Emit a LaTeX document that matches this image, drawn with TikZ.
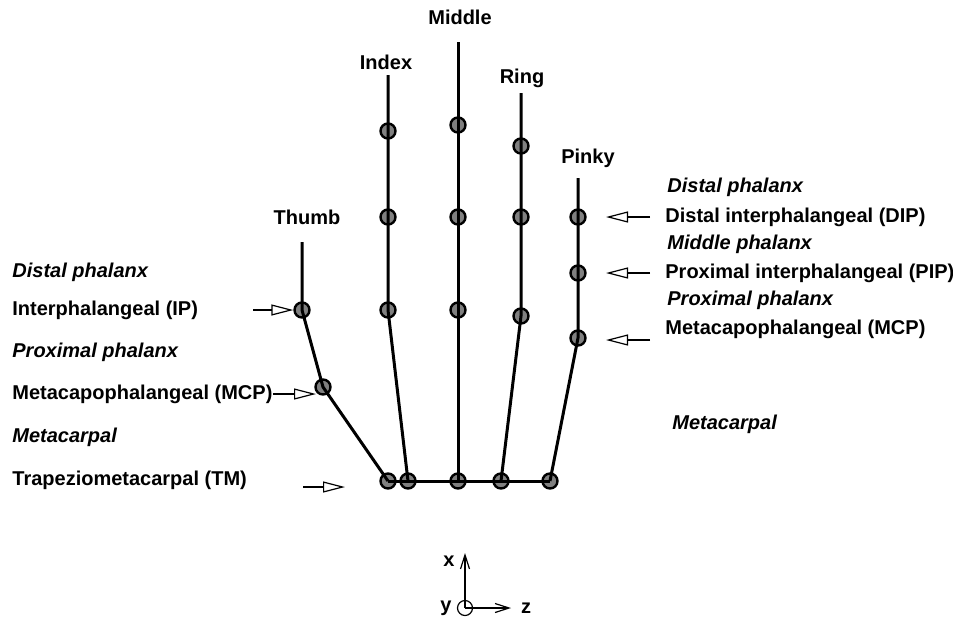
\documentclass[tikz,border=0pt]{standalone}
\usepackage{fontspec}
\setmainfont{Liberation Sans}
\usetikzlibrary{arrows.meta,positioning,calc}
\tikzset{
    joint/.style={
        circle,
        draw=black,
        line width=1.2pt,
        fill=gray,
        inner sep=0pt,
        minimum size=7.5pt,
    },
    bone/.style={
        draw,
        line width=1.5pt,
    },
    tag/.style={
        anchor=west,
        inner sep=0pt,
        font=\bfseries,
    },
    part/.style={
        tag,
        font=\bfseries\itshape,
    },
    finger/.style={
        font=\bfseries,
    },
    pointer/.style={
        draw,
        -{Triangle[open,length=11pt,width=5.5pt]},
        line width=0.6pt,
    },
    axis/.style={
        draw,
        -{Straight Barb[length=7pt,width=4.5pt]},
        line width=0.6pt,
    },
}

\begin{document}
\begin{tikzpicture}[x=0.5pt,y=-0.5pt]
    \useasboundingbox (0,0) rectangle (953,618);

    % joints
    \node [joint] (T0) at (388,481) {};
    \node [joint] (T1) at (323,387) {};
    \node [joint] (T2) at (302,310) {};
    \coordinate (T3) at (302,242);

    \node [joint] (I0) at (408,481) {};
    \node [joint] (I1) at (388,310) {};
    \node [joint] (I2) at (388,217) {};
    \node [joint] (I3) at (388,131) {};
    \coordinate (I4) at (388,75);

    \node [joint] (M0) at (458,481) {};
    \node [joint] (M1) at (458,310) {};
    \node [joint] (M2) at (458,217) {};
    \node [joint] (M3) at (458,125) {};
    \coordinate (M4) at (458,42);

    \node [joint] (R0) at (501,481) {};
    \node [joint] (R1) at (521,316) {};
    \node [joint] (R2) at (521,217) {};
    \node [joint] (R3) at (521,146) {};
    \coordinate (R4) at (521,93);

    \node [joint] (P0) at (550,481) {};
    \node [joint] (P1) at (578,338) {};
    \node [joint] (P2) at (578,273) {};
    \node [joint] (P3) at (578,217) {};
    \coordinate (P4) at (578,178);

    % bones
    \draw [bone] (T0.center) -- (T1.center) -- (T2.center) -- (T3);
    \draw [bone] (I0.center) -- (I1.center) -- (I2.center) -- (I3.center) -- (I4);
    \draw [bone] (M0.center) -- (M1.center) -- (M2.center) -- (M3.center) -- (M4);
    \draw [bone] (R0.center) -- (R1.center) -- (R2.center) -- (R3.center) -- (R4);
    \draw [bone] (P0.center) -- (P1.center) -- (P2.center) -- (P3.center) -- (P4);
    \draw [bone] (T0.center) -- (P0.center);

    % finger names
    \node [finger] (thumb) at (307,217) {Thumb};
    \node [finger] (index) at (386,62) {Index};
    \node [finger] (middle) at (460,17) {Middle};
    \node [finger] (ring) at (522,78) {Ring};
    \node [finger] (pinky) at (588,158) {Pinky};

    % thumb side
    \node [part] (lDist) at (12,272) {Distal phalanx};
    \node [tag] (lIP) at (12,310) {Interphalangeal (IP)};
    \node [part] (lProx) at (12,352) {Proximal phalanx};
    \node [tag] (lMCP) at (12,394) {Metacapophalangeal (MCP)};
    \node [part] (lMeta) at (12,437) {Metacarpal};
    \node [tag] (lTM) at (12,480) {Trapeziometacarpal (TM)};

    \coordinate (aIP) at (253,310);
    \coordinate (bMCP) at (316,394);
    \coordinate (aTM) at (303,487);
    \coordinate (bTM) at (345,487);
    \draw [pointer] (aIP) -- (T2);
    \draw [pointer] (lMCP.east) -- (lMCP.east -| bMCP);
    \draw [pointer] (aTM) -- (bTM);

    % pinky side
    \node [part] (rDist) at (667,187) {Distal phalanx};
    \node [tag] (rDIP) at (665,217) {Distal interphalangeal (DIP)};
    \node [part] (rMid) at (667,244) {Middle phalanx};
    \node [tag] (rPIP) at (665,273) {Proximal interphalangeal (PIP)};
    \node [part] (rProx) at (667,300) {Proximal phalanx};
    \node [tag] (rMCP) at (665,329) {Metacapophalangeal (MCP)};
    \node [part] (rMeta) at (672,424) {Metacarpal};

    \foreach \y/\n in {217/DIP,273/PIP,340/MCP} {
        \coordinate (a\n) at (650,\y);
        \coordinate (b\n) at (606,\y);
        \draw [pointer] (a\n) -- (b\n);
    }

    % axes
    \node [circle,draw,line width=0.6pt,inner sep=0pt,minimum size=7.5pt] (O) at (465,608) {};
    \coordinate (X) at (465,553);
    \coordinate (Z) at (511,608);
    \draw [axis] (O.center) -- (X);
    \draw [axis] (O.center) -- (Z);
    \node [finger] (xl) at (449,561) {x};
    \node [finger] (yl) at (446,608) {y};
    \node [finger] (zl) at (526,608) {z};
\end{tikzpicture}
\end{document}
